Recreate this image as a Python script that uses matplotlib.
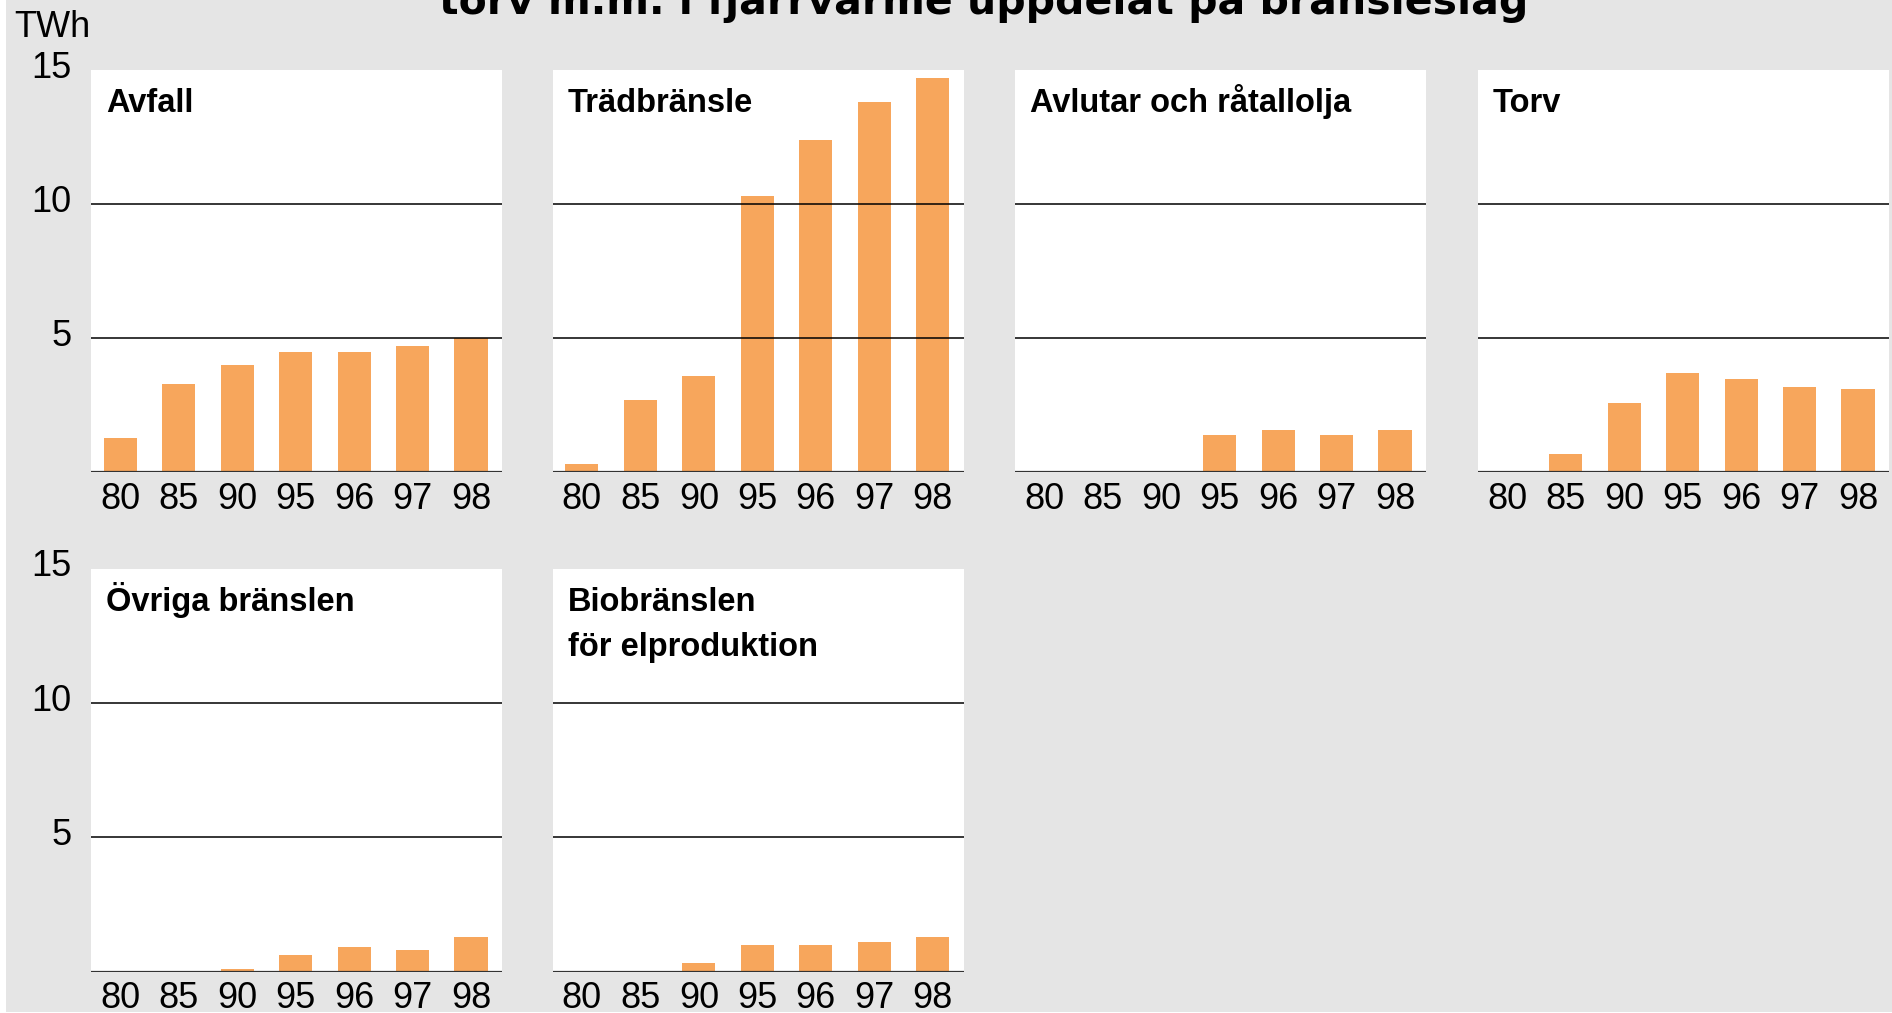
import matplotlib
matplotlib.use("Agg")
import matplotlib.pyplot as plt
from matplotlib import font_manager
from matplotlib.patches import Rectangle
from matplotlib.transforms import ScaledTranslation

# condensed font for labels if available
names = {f.name for f in font_manager.fontManager.ttflist}
NARROW = 'Liberation Sans Narrow' if 'Liberation Sans Narrow' in names else 'Liberation Sans'
TITLE_SIZE = 27 if NARROW == 'Liberation Sans Narrow' else 23.5

years = ['80', '85', '90', '95', '96', '97', '98']
panel_titles = ['Avfall', 'Trädbränsle', 'Avlutar och råtallolja', 'Torv',
                'Övriga bränslen', 'Biobränslen\nför elproduktion']
avfall = [1.3, 3.3, 4.0, 4.5, 4.5, 4.7, 5.0]
tradbransle = [0.3, 2.7, 3.6, 10.3, 12.4, 13.8, 14.7]
avlutar = [0, 0, 0, 1.4, 1.6, 1.4, 1.6]
torv = [0, 0.7, 2.6, 3.7, 3.5, 3.2, 3.1]
ovriga = [0, 0, 0.1, 0.6, 0.9, 0.8, 1.3]
bio_el = [0, 0, 0.3, 1.0, 1.0, 1.1, 1.3]
series = [avfall, tradbransle, avlutar, torv, ovriga, bio_el]
yticks = [5, 10, 15]

W, H = 1892, 1013
BAR = '#f7a65c'
BG = '#e5e5e5'

fig = plt.figure(figsize=(W / 100, H / 100), dpi=100, facecolor='white')
fig.add_artist(Rectangle((6 / W, 1 / H), 1, 1, transform=fig.transFigure,
                         facecolor=BG, edgecolor='none', zorder=-1))

col_left = [91, 552.7, 1015, 1478]
row_top = [70, 569]
pw, ph = 411, 402.5

for i, (vals, title) in enumerate(zip(series, panel_titles)):
    r, c = divmod(i, 4)
    ax = fig.add_axes([col_left[c] / W, 1 - (row_top[r] + ph) / H, pw / W, ph / H])
    ax.set_facecolor('white')
    x = range(len(years))
    ax.bar(x, vals, width=0.565, color=BAR, zorder=1)
    for y in (5, 10):
        ax.axhline(y, color='black', lw=1.1, zorder=2)
    ax.axhline(0, color='#333333', lw=1.6, zorder=3)
    ax.set_xlim(-0.5, 6.53)
    ax.set_ylim(0, 15)
    for s in ax.spines.values():
        s.set_visible(False)
    ax.set_xticks(list(x))
    ax.set_xticklabels(years, fontsize=26, family=NARROW)
    ax.tick_params(axis='x', length=0, pad=6.5)
    if c == 0:
        ax.set_yticks(yticks)
        ax.set_yticklabels([str(v) for v in yticks], fontsize=26, family=NARROW)
        ax.tick_params(axis='y', length=0, pad=14)
        for lab in ax.get_yticklabels():
            lab.set_transform(lab.get_transform() +
                              ScaledTranslation(0, 0.06, fig.dpi_scale_trans))
    else:
        ax.set_yticks([])
    for k, line in enumerate(title.split('\n')):
        ax.text(15 / pw, 1 - (41.7 + 45 * k) / ph, line, transform=ax.transAxes,
                fontsize=TITLE_SIZE, fontweight='bold', family=NARROW,
                va='baseline', ha='left')

fig.text(14 / W, 1 - 37 / H, 'TWh', fontsize=26, family=NARROW, va='baseline', ha='left')
# title sits mostly above the canvas, as in the source image
fig.text(984 / W, 1 - 14 / H, 'torv m.m. i fjärrvärme uppdelat på bränsleslag',
         fontsize=29.5, fontweight='bold', family='DejaVu Sans', ha='center', va='baseline')

fig.savefig('out.png', dpi=100, facecolor='white')
